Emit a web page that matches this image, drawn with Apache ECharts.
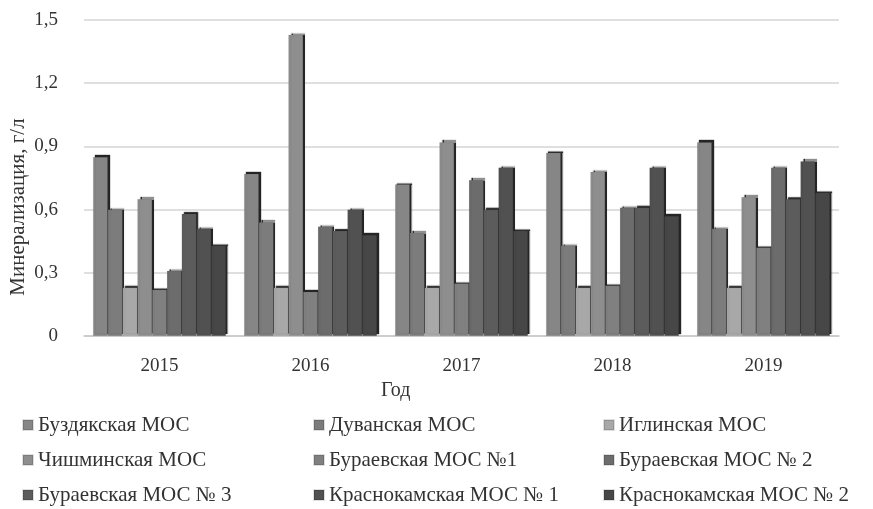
<!DOCTYPE html>
<html>
<head>
<meta charset="utf-8">
<script src="https://cdn.jsdelivr.net/npm/echarts@6/dist/echarts.min.js"></script>
<style>html,body{margin:0;padding:0;background:#fff;}#c{width:873px;height:509px;}</style>
</head>
<body>
<div id="c"></div>
<script>
const years = ['2015', '2016', '2017', '2018', '2019'];
const seriesNames = ['Буздякская МОС', 'Дуванская МОС', 'Иглинская МОС', 'Чишминская МОС', 'Бураевская МОС №1', 'Бураевская МОС № 2', 'Бураевская МОС № 3', 'Краснокамская МОС № 1', 'Краснокамская МОС № 2'];
const buzdyak   = [0.85, 0.77, 0.72, 0.87, 0.92];
const duvan     = [0.60, 0.54, 0.49, 0.43, 0.51];
const iglin     = [0.23, 0.23, 0.23, 0.23, 0.23];
const chishmin  = [0.65, 1.43, 0.92, 0.78, 0.66];
const buraev1   = [0.22, 0.21, 0.25, 0.24, 0.42];
const buraev2   = [0.31, 0.52, 0.74, 0.61, 0.80];
const buraev3   = [0.58, 0.50, 0.60, 0.61, 0.65];
const krasnok1  = [0.51, 0.60, 0.80, 0.80, 0.83];
const krasnok2  = [0.43, 0.48, 0.50, 0.57, 0.68];
const yTickLabels = ['0', '0,3', '0,6', '0,9', '1,2', '1,5'];
const allValues = [buzdyak, duvan, iglin, chishmin, buraev1, buraev2, buraev3, krasnok1, krasnok2];
const colors = ['#868686', '#7c7c7c', '#a8a8a8', '#8e8e8e', '#808080', '#6c6c6c', '#5c5c5c', '#515151', '#474747'];

const font = 'Liberation Serif';
const chart = echarts.init(document.getElementById('c'));
const series = seriesNames.map((n, i) => ({
  name: n,
  type: 'bar',
  data: allValues[i],
  barGap: '0%',
  barCategoryGap: '12%',
  itemStyle: {
    color: colors[i],
    borderColor: 'rgba(0,0,0,0.12)',
    borderWidth: 0.5,
    shadowColor: '#262626',
    shadowOffsetX: 2,
    shadowOffsetY: -2,
    shadowBlur: 1
  }
}));
const legendCols = [[0,3,6],[1,4,7],[2,5,8]];
const legendLefts = [22, 313, 603];
chart.setOption({
  backgroundColor: '#fff',
  animation: false,
  grid: { left: 84, right: 34, top: 20, bottom: 173 },
  xAxis: {
    type: 'category',
    data: years,
    axisLine: { lineStyle: { color: '#c8c8c8', width: 1.5 } },
    axisTick: { show: false },
    axisLabel: { color: '#333', fontFamily: font, fontSize: 19, margin: 21 }
  },
  yAxis: {
    type: 'value',
    min: 0, max: 1.5, interval: 0.3,
    axisLabel: {
      color: '#333', fontFamily: font, fontSize: 19, margin: 26,
      formatter: v => yTickLabels[Math.round(v / 0.3)]
    },
    splitLine: { lineStyle: { color: '#d4d4d4', width: 1.5 } },
    axisLine: { show: false },
    axisTick: { show: false }
  },
  legend: legendCols.map((col, k) => ({
    orient: 'vertical',
    left: legendLefts[k],
    top: 414,
    height: 95,
    padding: 0,
    itemWidth: 10,
    itemHeight: 10,
    itemGap: 13,
    icon: 'rect',
    data: col.map(i => seriesNames[i]),
    textStyle: { color: '#333', fontFamily: font, fontSize: 21, lineHeight: 22 }
  })),
  graphic: [{
    type: 'text',
    left: 381, top: 381,
    style: { text: 'Год', fill: '#333', font: '20px "Liberation Serif"' }
  }, {
    type: 'text',
    x: 8, y: 207,
    rotation: Math.PI / 2,
    style: { text: 'Минерализация, г/л', fill: '#333', font: '21px "Liberation Serif"', align: 'center', verticalAlign: 'top' }
  }],
  series: series
});
</script>
</body>
</html>
